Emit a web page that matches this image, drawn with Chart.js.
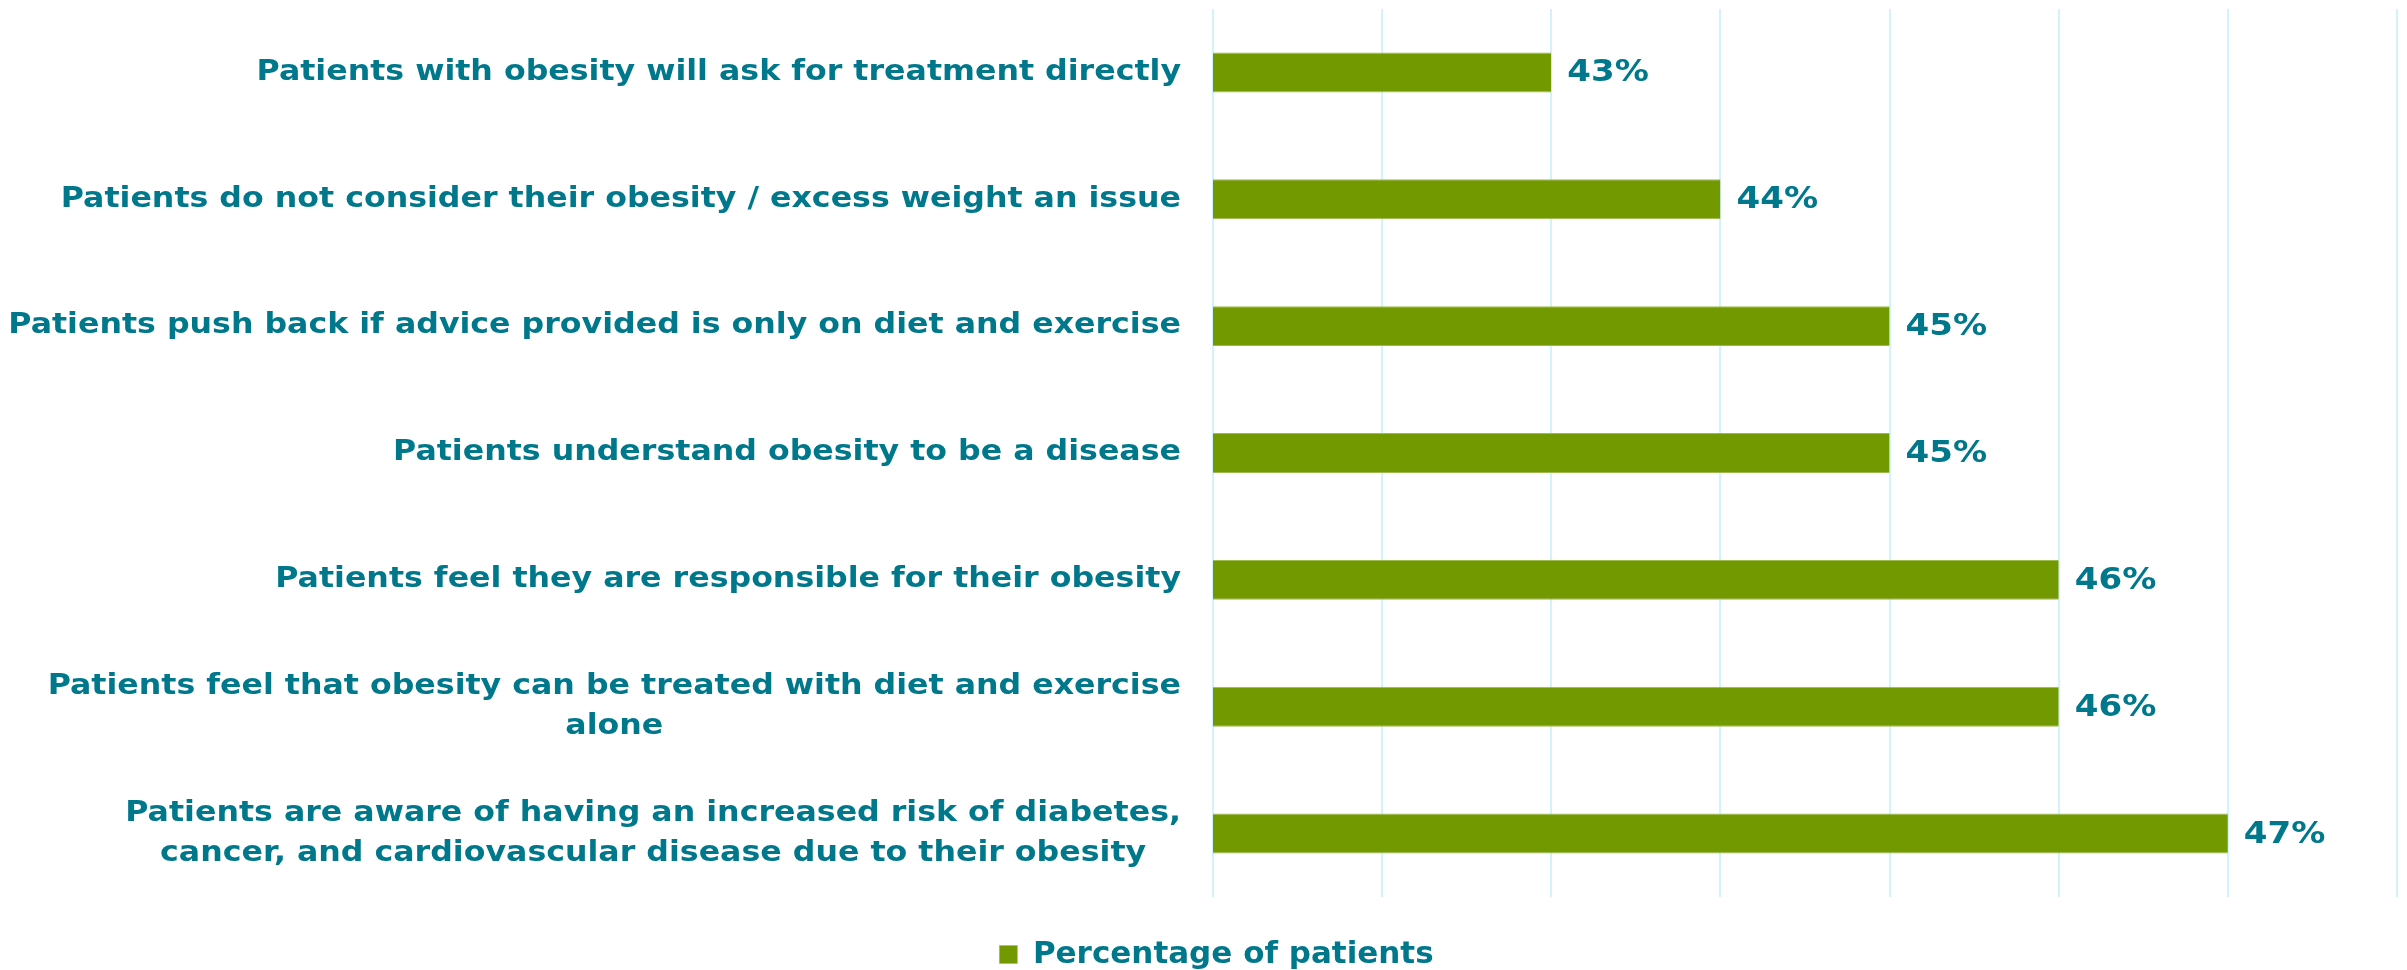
<!DOCTYPE html>
<html lang="en">
<head>
  <meta charset="UTF-8" />
  <title>Patient attitudes to obesity</title>
  <script src="https://cdn.jsdelivr.net/npm/chart.js"></script>
  <style>
    html, body {
      margin: 0;
      padding: 0;
      background: #ffffff;
    }

    .wrap {
      width: 2407px;
      height: 970px;
      position: relative;
    }
  </style>
</head>
<body>
  <div class="wrap">
    <canvas id="attitudeChart"></canvas>
  </div>

  <script>
    const categories = [
      ['Patients with obesity will ask for treatment directly'],
      ['Patients do not consider their obesity / excess weight an issue'],
      ['Patients push back if advice provided is only on diet and exercise'],
      ['Patients understand obesity to be a disease'],
      ['Patients feel they are responsible for their obesity'],
      ['Patients feel that obesity can be treated with diet and exercise', 'alone'],
      ['Patients are aware of having an increased risk of diabetes,', 'cancer, and cardiovascular disease due to their obesity']
    ];
    const percentages = [43, 44, 45, 45, 46, 46, 47];
    const seriesName = 'Percentage of patients';
    const axisMin = 41;
    const axisMax = 48;

    const TEAL = '#00788C';
    const GREEN = '#739900';
    const FAMILY = '"DejaVu Sans", Verdana, sans-serif';
    const LABEL_FONT = 'bold 28px ' + FAMILY;
    const VALUE_FONT = 'bold 31px ' + FAMILY;
    const PLOT_LEFT = 1213;
    const PAD_LEFT = 36;

    // draws text stretched sideways so it sits closer to a Verdana width
    function wideText(ctx, text, x, y, align, sx) {
      ctx.save();
      ctx.translate(x, y);
      ctx.scale(sx, 1);
      ctx.textAlign = align;
      ctx.fillText(text, 0, 0);
      ctx.restore();
    }

    // category labels: block right-aligned against the axis, lines centred inside the block
    const categoryLabels = {
      id: 'categoryLabels',
      afterDraw(chart) {
        const ctx = chart.ctx;
        const y = chart.scales.y;
        const sx = 1.13;
        const lineH = 40;
        ctx.save();
        ctx.font = LABEL_FONT;
        ctx.fillStyle = TEAL;
        ctx.textBaseline = 'middle';
        categories.forEach((lines, i) => {
          const cy = y.getPixelForValue(i);
          const blockW = Math.max(...lines.map(l => ctx.measureText(l).width)) * sx;
          const right = chart.chartArea.left - 32;
          const cx = right - blockW / 2;
          const top = cy - (lines.length - 1) * lineH / 2;
          lines.forEach((l, k) => wideText(ctx, l, cx, top + k * lineH, 'center', sx));
        });
        ctx.restore();
      }
    };

    // value labels just past the end of each bar
    const valueLabels = {
      id: 'valueLabels',
      afterDatasetsDraw(chart) {
        const ctx = chart.ctx;
        const meta = chart.getDatasetMeta(0);
        ctx.save();
        ctx.font = VALUE_FONT;
        ctx.fillStyle = TEAL;
        ctx.textBaseline = 'middle';
        meta.data.forEach((bar, i) => {
          wideText(ctx, percentages[i] + '%', bar.x + 16, bar.y + 1, 'left', 1.1);
        });
        ctx.restore();
      }
    };

    const ctx = document.getElementById('attitudeChart').getContext('2d');
    new Chart(ctx, {
      type: 'bar',
      data: {
        labels: categories,
        datasets: [{
          label: seriesName,
          data: percentages,
          backgroundColor: GREEN,
          borderColor: '#9DBB4C',
          borderWidth: { top: 1, bottom: 1, left: 0, right: 0 },
          borderSkipped: false,
          categoryPercentage: 1,
          barPercentage: 0.315
        }]
      },
      plugins: [categoryLabels, valueLabels],
      options: {
        indexAxis: 'y',
        responsive: true,
        maintainAspectRatio: false,
        animation: false,
        layout: {
          padding: { left: PAD_LEFT, right: 10, top: 9, bottom: -10 }
        },
        scales: {
          x: {
            min: axisMin,
            max: axisMax,
            ticks: { display: false, stepSize: 1 },
            border: { display: false },
            grid: {
              color: '#D3F3FC',
              lineWidth: 2,
              drawTicks: false
            },
            afterFit(scale) { scale.height = 42; }
          },
          y: {
            ticks: { display: false },
            border: { display: false },
            grid: { display: false },
            afterFit(scale) { scale.width = PLOT_LEFT - PAD_LEFT; }
          }
        },
        plugins: {
          legend: {
            position: 'bottom',
            labels: {
              boxWidth: 18,
              boxHeight: 18,
              padding: 0,
              color: TEAL,
              font: { family: FAMILY, size: 31, weight: 'bold' }
            }
          },
          tooltip: { enabled: false },
          title: { display: false }
        }
      }
    });
  </script>
</body>
</html>
